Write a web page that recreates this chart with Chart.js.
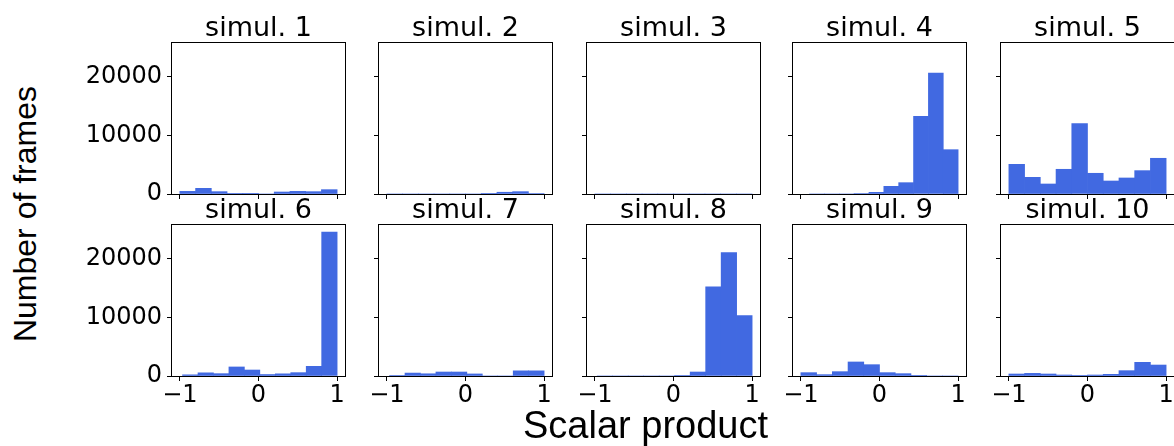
<!DOCTYPE html>
<html>
<head>
<meta charset="utf-8">
<script src="https://cdn.jsdelivr.net/npm/chart.js@4.4.1/dist/chart.umd.min.js"></script>
<style>
  html, body { margin: 0; padding: 0; background: #fff; overflow: hidden; }
  #fig { position: relative; width: 1174px; height: 446px; overflow: hidden; }
  #fig canvas { position: absolute; }
  .title {
    position: absolute; width: 173px; text-align: center; white-space: nowrap;
    font: 27px/27px "DejaVu Sans", sans-serif; color: #000;
  }
  .axlabel {
    position: absolute; white-space: nowrap; text-align: center;
    font-family: "Liberation Sans", Arial, sans-serif; color: #000;
  }
</style>
</head>
<body>
<div id="fig"></div>
<script>
// histogram data, one entry per simulation (10 bins each)
const simTitles = ["simul. 1", "simul. 2", "simul. 3", "simul. 4", "simul. 5",
                   "simul. 6", "simul. 7", "simul. 8", "simul. 9", "simul. 10"];
const binLo = [-1, -1, -1, -0.89, -1, -0.966, -0.966, -0.97, -1, -1];
const binHi = [1, 1, 1, 1, 1, 1, 1, 1, 1, 1];
const sim1 = [450, 970, 400, 60, 30, 0, 340, 450, 400, 740];
const sim2 = [0, 0, 0, 0, 0, 0, 110, 300, 400, 80];
const sim3 = [0, 0, 0, 0, 0, 0, 0, 0, 0, 0];
const sim4 = [0, 0, 0, 90, 280, 1310, 1930, 13250, 20580, 7550];
const sim5 = [5060, 2840, 1705, 4210, 11990, 3530, 2215, 2730, 3980, 6085];
const sim6 = [200, 540, 400, 1540, 1020, 250, 370, 570, 1650, 24500];
const sim7 = [100, 500, 380, 680, 680, 350, 0, 0, 880, 880];
const sim8 = [0, 0, 0, 0, 0, 100, 680, 15180, 21020, 10280];
const sim9 = [570, 230, 740, 2390, 1930, 570, 400, 110, 0, 0];
const sim10 = [340, 450, 340, 170, 110, 170, 280, 910, 2330, 1870];
const simCounts = [sim1, sim2, sim3, sim4, sim5, sim6, sim7, sim8, sim9, sim10];
const xTicks = [-1, 0, 1];
const yTicks = [0, 10000, 20000];

// layout (px)
const COL_LEFT = [172, 379, 587, 793, 1001];
const ROW_TOP = [43, 225];
const PANEL_W = 173, PANEL_H = 151;
const PAD_L = 110, PAD_T = 24, PAD_R = 20, PAD_B = 44;
const X_MIN = -1.1, X_MAX = 1.1, Y_MAX = 25725;
const BAR_COLOR = "#4169e1";
const TICK_FONT = { family: "DejaVu Sans", size: 24 };

const fig = document.getElementById("fig");

// black box round each axes, like matplotlib spines
const framePlugin = {
  id: "frame",
  afterDraw(chart) {
    const { ctx, chartArea: a } = chart;
    ctx.save();
    ctx.strokeStyle = "#000";
    ctx.lineWidth = 1;
    ctx.strokeRect(Math.round(a.left) - 0.5, Math.round(a.top) - 0.5,
                   Math.round(a.right - a.left) + 1, Math.round(a.bottom - a.top) + 1);
    ctx.restore();
  }
};

function tickText(v) {
  return v < 0 ? "\u2212" + Math.abs(v) : String(v);
}

function renderPanel(i) {
  const row = Math.floor(i / 5), col = i % 5;
  const counts = simCounts[i];
  const w = (binHi[i] - binLo[i]) / counts.length;
  const points = counts.map((c, k) => ({ x: binLo[i] + (k + 0.5) * w, y: c }));

  const canvas = document.createElement("canvas");
  const cw = PAD_L + PANEL_W + PAD_R, ch = PAD_T + PANEL_H + PAD_B;
  canvas.width = cw; canvas.height = ch;
  canvas.style.width = cw + "px"; canvas.style.height = ch + "px";
  canvas.style.left = (COL_LEFT[col] - PAD_L) + "px";
  canvas.style.top = (ROW_TOP[row] - PAD_T) + "px";
  fig.appendChild(canvas);

  const title = document.createElement("div");
  title.className = "title";
  title.textContent = simTitles[i];
  title.style.left = COL_LEFT[col] + "px";
  title.style.top = (ROW_TOP[row] - 7.5 - 22.8) + "px";
  fig.appendChild(title);

  const grid = { drawOnChartArea: false, drawTicks: true, tickLength: 5, color: "#000", lineWidth: 1 };

  new Chart(canvas, {
    type: "bar",
    data: {
      datasets: [{
        data: points,
        backgroundColor: BAR_COLOR,
        borderWidth: 0,
        barPercentage: 1,
        categoryPercentage: 1
      }]
    },
    options: {
      responsive: false,
      animation: false,
      devicePixelRatio: 1,
      layout: { padding: { top: PAD_T, right: PAD_R, left: 0, bottom: 0 } },
      plugins: { legend: { display: false }, tooltip: { enabled: false } },
      scales: {
        x: {
          type: "linear", min: X_MIN, max: X_MAX, offset: false,
          grid: { ...grid, offset: false },
          border: { display: false },
          afterBuildTicks: s => { s.ticks = xTicks.map(v => ({ value: v })); },
          ticks: {
            display: row === 1, padding: 0, maxRotation: 0, autoSkip: false,
            font: TICK_FONT, color: "#000", callback: tickText
          },
          afterFit: s => { s.height = PAD_B; }
        },
        y: {
          min: 0, max: Y_MAX,
          grid,
          border: { display: false },
          afterBuildTicks: s => { s.ticks = yTicks.map(v => ({ value: v })); },
          ticks: {
            display: col === 0, padding: 5,
            font: TICK_FONT, color: "#000", callback: v => String(v)
          },
          afterFit: s => { s.width = PAD_L; }
        }
      }
    },
    plugins: [framePlugin]
  });
}

simCounts.forEach((_, i) => renderPanel(i));

// shared axis labels
const ylab = document.createElement("div");
ylab.className = "axlabel";
ylab.textContent = "Number of frames";
ylab.style.font = '32px/32px "Liberation Sans", Arial, sans-serif';
ylab.style.width = "400px";
ylab.style.left = (25 - 200) + "px";
ylab.style.top = (214 - 16) + "px";
ylab.style.transform = "rotate(-90deg)";
fig.appendChild(ylab);

const xlab = document.createElement("div");
xlab.className = "axlabel";
xlab.textContent = "Scalar product";
xlab.style.font = '38px/38px "Liberation Sans", Arial, sans-serif';
xlab.style.width = "400px";
xlab.style.left = (645.5 - 200) + "px";
xlab.style.top = (438 - 32.2) + "px";
fig.appendChild(xlab);
</script>
</body>
</html>
